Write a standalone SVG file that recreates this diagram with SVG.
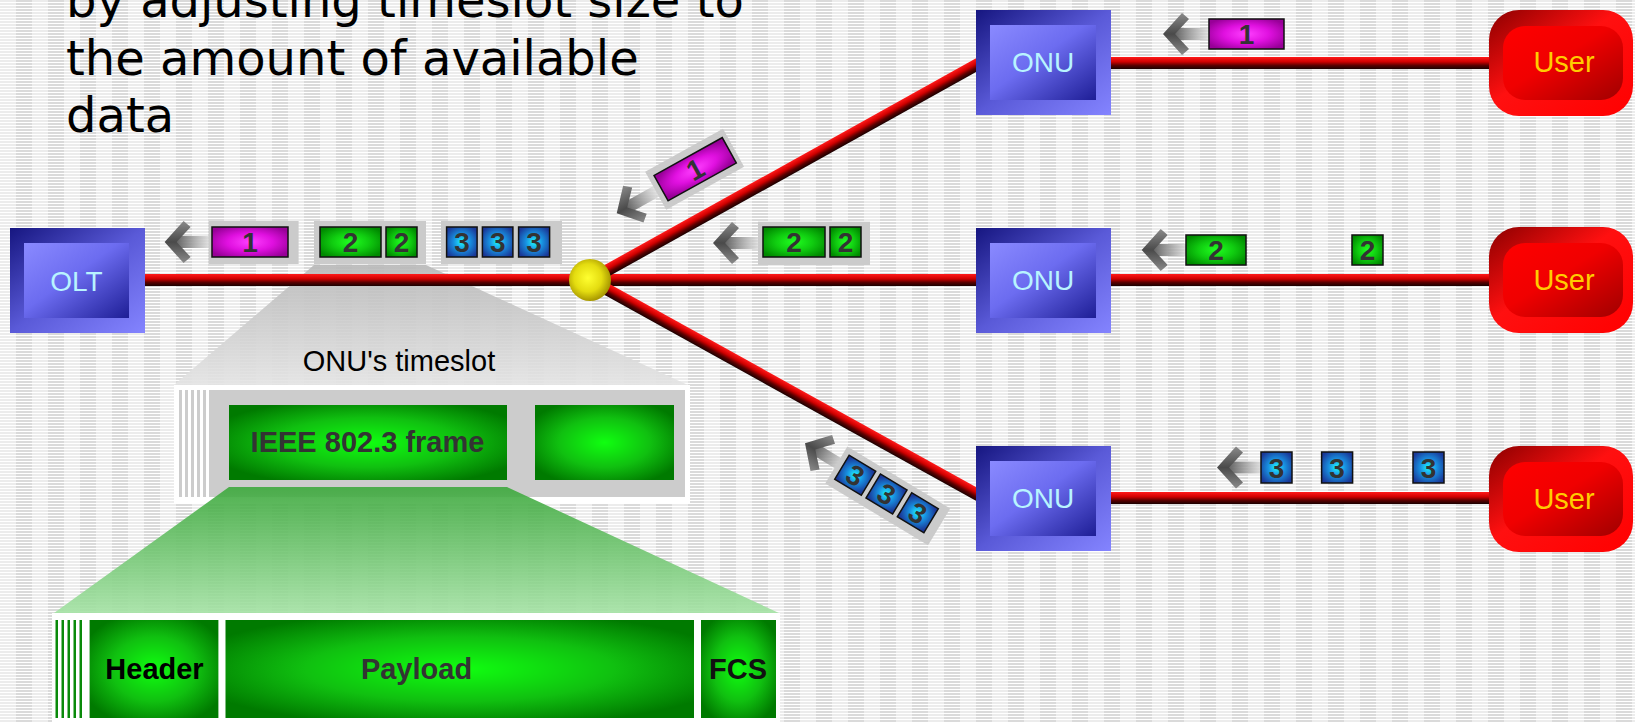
<svg xmlns="http://www.w3.org/2000/svg" width="1635" height="723" viewBox="0 0 1635 723">
<defs>
<pattern id="bg" width="32" height="3" patternUnits="userSpaceOnUse">
<rect width="32" height="3" fill="#ffffff"/>
<rect x="0" y="0" width="16" height="2" fill="#ececec"/>
<rect x="16" y="0" width="16" height="2" fill="#dadada"/>
</pattern>
<linearGradient id="bxO" x1="0" y1="0" x2="1" y2="1">
<stop offset="0" stop-color="#161680"/><stop offset="0.5" stop-color="#5a5ad8"/><stop offset="1" stop-color="#8484ff"/>
</linearGradient>
<linearGradient id="bxI" x1="0" y1="0" x2="1" y2="1">
<stop offset="0" stop-color="#8a8aff"/><stop offset="0.45" stop-color="#6c6cf0"/><stop offset="1" stop-color="#1e1e96"/>
</linearGradient>
<linearGradient id="uO" x1="0" y1="0" x2="1" y2="1">
<stop offset="0" stop-color="#8c0000"/><stop offset="0.45" stop-color="#ff1010"/><stop offset="1" stop-color="#ff0000"/>
</linearGradient>
<linearGradient id="uI" x1="0" y1="0" x2="1" y2="1">
<stop offset="0" stop-color="#ff0000"/><stop offset="0.45" stop-color="#f00000"/><stop offset="1" stop-color="#a00000"/>
</linearGradient>
<linearGradient id="lineG" x1="0" y1="0" x2="0" y2="1">
<stop offset="0" stop-color="#ff1a1a"/><stop offset="0.4" stop-color="#d00000"/><stop offset="0.7" stop-color="#5a0000"/><stop offset="1" stop-color="#1a0000"/>
</linearGradient>
<radialGradient id="ballG" cx="0.45" cy="0.45" r="0.55">
<stop offset="0" stop-color="#ffff30"/><stop offset="0.6" stop-color="#e4dc10"/><stop offset="1" stop-color="#a89800"/>
</radialGradient>
<radialGradient id="pM" cx="0.5" cy="0.5" r="0.6">
<stop offset="0" stop-color="#ff40ff"/><stop offset="0.5" stop-color="#e010e0"/><stop offset="1" stop-color="#980098"/>
</radialGradient>
<radialGradient id="pG" cx="0.5" cy="0.5" r="0.6">
<stop offset="0" stop-color="#20ff20"/><stop offset="0.5" stop-color="#10cc10"/><stop offset="1" stop-color="#008a00"/>
</radialGradient>
<radialGradient id="pB" cx="0.5" cy="0.5" r="0.6">
<stop offset="0" stop-color="#20f4ff"/><stop offset="0.45" stop-color="#1890e0"/><stop offset="1" stop-color="#1a3898"/>
</radialGradient>
<radialGradient id="fG" cx="0.5" cy="0.5" r="0.6">
<stop offset="0" stop-color="#10ff10"/><stop offset="0.55" stop-color="#10c010"/><stop offset="1" stop-color="#007a00"/>
</radialGradient>
<linearGradient id="shaft" x1="0" y1="0" x2="1" y2="0">
<stop offset="0" stop-color="#5a5a5a"/><stop offset="1" stop-color="#e4e4e4" stop-opacity="0.7"/>
</linearGradient>
<linearGradient id="chev" x1="0" y1="0" x2="0" y2="1">
<stop offset="0" stop-color="#8a8a8a"/><stop offset="0.5" stop-color="#4a4a4a"/><stop offset="1" stop-color="#8a8a8a"/>
</linearGradient>
<linearGradient id="trapGrey" x1="0" y1="0" x2="0" y2="1">
<stop offset="0" stop-color="#b8b8b8"/><stop offset="1" stop-color="#e4e4e4"/>
</linearGradient>
<linearGradient id="trapGreen" x1="0" y1="0" x2="0" y2="1">
<stop offset="0" stop-color="#3ca83c"/><stop offset="1" stop-color="#a4e2a4"/>
</linearGradient>
<g id="arr">
<rect x="10" y="-6" width="38" height="12" fill="url(#shaft)"/>
<polygon points="0,0 19,-21 26,-15 12,0 26,15 19,21" fill="url(#chev)"/>
</g>
<style>
.title{font-family:"DejaVu Sans",Verdana,sans-serif;font-size:48px;fill:#000}
.lbl{font-family:"Liberation Sans",Arial,sans-serif;font-size:28px;text-anchor:middle;fill:#b8f4ff}
.usr{font-family:"Liberation Sans",Arial,sans-serif;font-size:29px;text-anchor:middle;fill:#ffcc00}
.num{font-family:"Liberation Sans",Arial,sans-serif;font-size:28px;font-weight:bold;text-anchor:middle;fill:#333}
.fr{font-family:"Liberation Sans",Arial,sans-serif;font-size:29px;font-weight:bold;text-anchor:middle}
.ts{font-family:"Liberation Sans",Arial,sans-serif;font-size:29px;text-anchor:middle;fill:#000}
.pk{stroke:#111;stroke-width:1.5}
.gb{fill:#cbcbcb}
</style>
</defs>
<rect width="1635" height="723" fill="url(#bg)"/>

<g id="title">
<text class="title" x="66" y="17">by adjusting timeslot size to</text>
<text class="title" x="66" y="74.5">the amount of available</text>
<text class="title" x="66" y="132">data</text>
</g>

<g id="zoom-trapezoids">
<polygon points="314,265 426,265 688,385 174,385" fill="url(#trapGrey)" opacity="0.9"/>
</g>

<g id="connectors">
<rect x="140" y="274" width="450" height="12" fill="url(#lineG)"/>
<rect x="590" y="274" width="395" height="12" fill="url(#lineG)"/>
<rect x="0" y="-6" width="458" height="12" fill="url(#lineG)" transform="translate(590,280) rotate(-29.1)"/>
<rect x="0" y="-6" width="458" height="12" fill="url(#lineG)" transform="translate(590,280) rotate(29)"/>
<rect x="1105" y="57" width="388" height="12" fill="url(#lineG)"/>
<rect x="1105" y="274" width="388" height="12" fill="url(#lineG)"/>
<rect x="1105" y="492" width="388" height="12" fill="url(#lineG)"/>
</g>

<g id="splitter">
<circle cx="590" cy="280" r="21" fill="url(#ballG)"/>
</g>

<g id="olt">
<rect x="10" y="228" width="135" height="105" fill="url(#bxO)"/>
<rect x="24" y="243" width="105" height="75" fill="url(#bxI)"/>
<text class="lbl" x="76.5" y="290.5">OLT</text>
</g>
<g id="onu1">
<rect x="976" y="10" width="135" height="105" fill="url(#bxO)"/>
<rect x="990" y="25" width="106" height="75" fill="url(#bxI)"/>
<text class="lbl" x="1043" y="72">ONU</text>
</g>
<g id="onu2">
<rect x="976" y="228" width="135" height="105" fill="url(#bxO)"/>
<rect x="990" y="243" width="106" height="75" fill="url(#bxI)"/>
<text class="lbl" x="1043" y="290">ONU</text>
</g>
<g id="onu3">
<rect x="976" y="446" width="135" height="105" fill="url(#bxO)"/>
<rect x="990" y="461" width="106" height="75" fill="url(#bxI)"/>
<text class="lbl" x="1043" y="508">ONU</text>
</g>

<g id="user1">
<rect x="1489" y="10" width="144" height="106" rx="30" fill="url(#uO)"/>
<rect x="1503" y="26" width="120" height="74" rx="22" fill="url(#uI)"/>
<text class="usr" x="1564" y="72">User</text>
</g>
<g id="user2">
<rect x="1489" y="227" width="144" height="106" rx="30" fill="url(#uO)"/>
<rect x="1503" y="243" width="120" height="74" rx="22" fill="url(#uI)"/>
<text class="usr" x="1564" y="290">User</text>
</g>
<g id="user3">
<rect x="1489" y="446" width="144" height="106" rx="30" fill="url(#uO)"/>
<rect x="1503" y="462" width="120" height="74" rx="22" fill="url(#uI)"/>
<text class="usr" x="1564" y="509">User</text>
</g>

<g id="olt-stream">
<use href="#arr" x="164.6" y="242"/>
<rect class="gb" x="208.6" y="221" width="90" height="43"/>
<rect class="pk" x="212" y="227" width="76" height="30" fill="url(#pM)"/>
<text class="num" x="250" y="252">1</text>
<rect class="gb" x="314" y="221" width="112" height="43"/>
<rect class="pk" x="320" y="227" width="61" height="30" fill="url(#pG)"/>
<text class="num" x="350.5" y="252">2</text>
<rect class="pk" x="386" y="227" width="31" height="30" fill="url(#pG)"/>
<text class="num" x="401.5" y="252">2</text>
<rect class="gb" x="441" y="221" width="121" height="43"/>
<rect class="pk" x="446.6" y="227" width="30.5" height="30" fill="url(#pB)"/>
<text class="num" x="462" y="252">3</text>
<rect class="pk" x="482.4" y="227" width="30.5" height="30" fill="url(#pB)"/>
<text class="num" x="497.7" y="252">3</text>
<rect class="pk" x="518.6" y="227" width="31" height="30" fill="url(#pB)"/>
<text class="num" x="534" y="252">3</text>
</g>

<g id="branch1-stream" transform="translate(616.7,213.3) rotate(-29)">
<use href="#arr"/>
<rect class="gb" x="45" y="-22.5" width="89" height="43.5"/>
<rect class="pk" x="51" y="-15" width="78" height="29" fill="url(#pM)"/>
<text class="num" x="90" y="9.5">1</text>
</g>

<g id="branch2-stream">
<use href="#arr" x="713" y="243"/>
<rect class="gb" x="758" y="221.7" width="112" height="43.3"/>
<rect class="pk" x="763" y="227" width="62" height="30" fill="url(#pG)"/>
<text class="num" x="794" y="252">2</text>
<rect class="pk" x="830" y="227" width="31" height="30" fill="url(#pG)"/>
<text class="num" x="845.5" y="252">2</text>
</g>

<g id="branch3-stream" transform="translate(805,443.3) rotate(31)">
<use href="#arr"/>
<rect class="gb" x="38" y="-19" width="120" height="43"/>
<rect class="pk" x="44" y="-12.5" width="31" height="28" fill="url(#pB)"/>
<text class="num" x="59.5" y="11.5">3</text>
<rect class="pk" x="80.5" y="-12.5" width="31" height="28" fill="url(#pB)"/>
<text class="num" x="96" y="11.5">3</text>
<rect class="pk" x="117" y="-12.5" width="31" height="28" fill="url(#pB)"/>
<text class="num" x="132.5" y="11.5">3</text>
</g>

<g id="onu1-stream">
<use href="#arr" x="1163" y="34"/>
<rect class="pk" x="1209" y="19" width="75" height="30" fill="url(#pM)"/>
<text class="num" x="1246.5" y="44">1</text>
</g>
<g id="onu2-stream">
<use href="#arr" x="1141.7" y="250"/>
<rect class="pk" x="1186" y="235" width="60" height="30" fill="url(#pG)"/>
<text class="num" x="1216" y="260">2</text>
<rect class="pk" x="1352" y="235" width="31" height="30" fill="url(#pG)"/>
<text class="num" x="1367.5" y="260">2</text>
</g>
<g id="onu3-stream">
<use href="#arr" x="1217" y="467.5"/>
<rect class="pk" x="1261" y="452" width="31" height="31" fill="url(#pB)"/>
<text class="num" x="1276.5" y="477.5">3</text>
<rect class="pk" x="1321.6" y="452" width="31" height="31" fill="url(#pB)"/>
<text class="num" x="1337" y="477.5">3</text>
<rect class="pk" x="1413" y="452" width="31" height="31" fill="url(#pB)"/>
<text class="num" x="1428.5" y="477.5">3</text>
</g>

<g id="timeslot">
<text class="ts" x="399" y="371">ONU's timeslot</text>
<rect x="174" y="385" width="516" height="118" fill="#ffffff"/>
<rect x="179" y="390" width="506" height="107" fill="#cccccc"/>
<rect x="182" y="390" width="3" height="107" fill="#ffffff"/>
<rect x="188" y="390" width="3" height="107" fill="#ffffff"/>
<rect x="194" y="390" width="3" height="107" fill="#ffffff"/>
<rect x="200" y="390" width="3" height="107" fill="#ffffff"/>
<rect x="206" y="390" width="3" height="107" fill="#ffffff"/>
<rect x="229" y="405" width="278" height="75" fill="url(#fG)"/>
<text class="fr" x="367.5" y="452" fill="#333">IEEE 802.3 frame</text>
<rect x="535" y="405" width="139" height="75" fill="url(#fG)"/>
</g>

<g id="zoom-trapezoid-green">
<polygon points="229,487 507,487 779,613 54,613" fill="url(#trapGreen)" opacity="0.9"/>
</g>

<g id="frame">
<rect x="52" y="613" width="728" height="110" fill="#ffffff"/>
<rect x="55.5" y="620" width="2.5" height="98" fill="#0a8a0a"/>
<rect x="61.5" y="620" width="2.5" height="98" fill="#0a8a0a"/>
<rect x="67.5" y="620" width="2.5" height="98" fill="#0a8a0a"/>
<rect x="73.5" y="620" width="2.5" height="98" fill="#0a8a0a"/>
<rect x="79.5" y="620" width="2.5" height="98" fill="#0a8a0a"/>
<rect x="89.6" y="620" width="128.8" height="98" fill="url(#fG)"/>
<text class="fr" x="154.5" y="679" fill="#000">Header</text>
<rect x="225.5" y="620" width="468.5" height="98" fill="url(#fG)"/>
<text class="fr" x="416.5" y="679" fill="#333">Payload</text>
<rect x="701" y="620" width="75" height="98" fill="url(#fG)"/>
<text class="fr" x="738" y="679" fill="#111">FCS</text>
</g>
</svg>
